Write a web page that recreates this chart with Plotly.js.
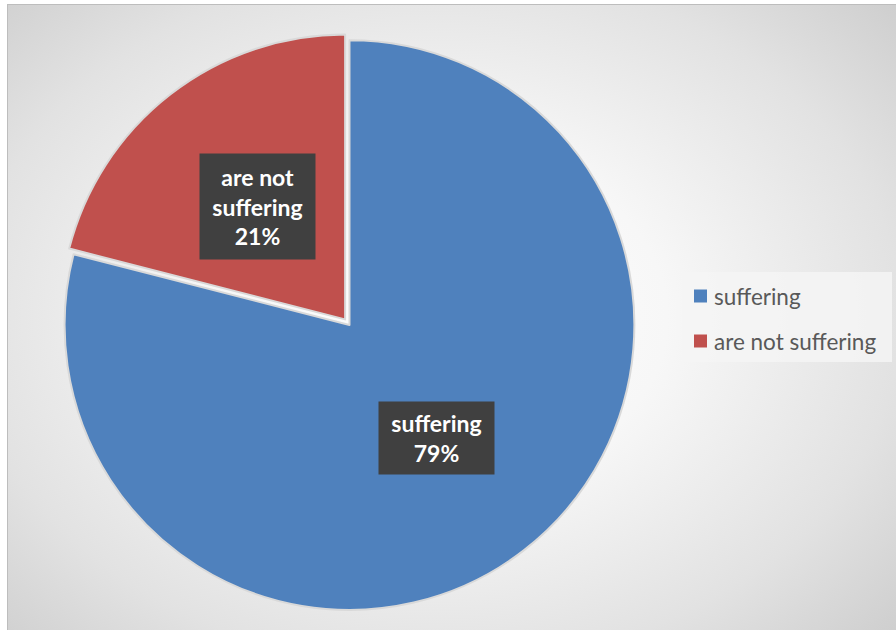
<!DOCTYPE html>
<html><head><meta charset="utf-8">
<script src="https://cdn.plot.ly/plotly-3.0.1.min.js"></script>
<style>
html,body{margin:0;padding:0;background:#fff;}
#wrap{position:relative;width:896px;height:630px;overflow:hidden;}
#bg{position:absolute;left:7px;top:4px;width:889px;height:626px;box-sizing:border-box;border-left:1px solid #bdbdbd;border-top:1px solid #bdbdbd;
background:radial-gradient(ellipse 75% 80% at 48% 50%, #ffffff 0%, #f7f7f7 35%, #e2e2e2 70%, #c9c9c9 100%);}
#chart{position:absolute;left:0;top:0;width:896px;height:630px;}
</style></head>
<body><div id="wrap"><div id="bg"></div><div id="chart"></div></div>
<script>
const labels = ["suffering", "are not suffering"];
const values = [79, 21];
const colors = ["#4F81BD", "#C0504D"];
const pulls = [0, 0.025];

const W = 896, H = 630;
const dom = {x:[0.0641, 0.716], y:[0.0206, 0.9476]};
const maxPull = Math.max(...pulls);
const cxp = (dom.x[0]+dom.x[1])/2*W, cyp = (1-(dom.y[0]+dom.y[1])/2)*H;
const R = Math.min((dom.x[1]-dom.x[0])*W, (dom.y[1]-dom.y[0])*H)/(2*(1+maxPull));
const total = values.reduce((a,b)=>a+b,0);

function wrap(s){const w=s.split(" ");const out=[];let cur="";w.forEach(t=>{if(cur&&(cur+" "+t).length>9){out.push(cur);cur=t;}else cur=cur?cur+" "+t:t;});out.push(cur);return out.join("<br>");}

const annotations = [];
const shapes = [];
let cum = 0;
values.forEach((v,i)=>{
  const a = (cum + v/2)/total*2*Math.PI; cum += v;
  const rr = 0.5*R + pulls[i]*R;
  const x = cxp + rr*Math.sin(a), y = cyp - rr*Math.cos(a);
  const pct = Math.round(v/total*100)+"%";
  const txt = wrap(labels[i]) + "<br>" + pct;
  const nl = txt.split("<br>").length;
  annotations.push({x:x/W, y:1-y/H, xref:"paper", yref:"paper", xanchor:"center", yanchor:"middle", showarrow:false, text:txt,
    font:{family:"Lato, 'Open Sans', sans-serif", size:23, color:"#ffffff", weight:"bold"},
    bgcolor:"#404040", borderpad:3, width:109, height: nl*33, align:"center", valign:"middle"});
});

// custom legend
const lg = {x0:682, x1:892, y0:272, y1:362};
shapes.push({type:"rect", xref:"paper", yref:"paper", x0:lg.x0/W, x1:lg.x1/W, y0:1-lg.y1/H, y1:1-lg.y0/H,
  fillcolor:"rgba(245,245,245,0.85)", line:{width:0}, layer:"below"});
labels.forEach((l,i)=>{
  const yc = 296 + i*45;
  shapes.push({type:"rect", xref:"paper", yref:"paper", x0:694/W, x1:707/W, y0:1-(yc+6.5)/H, y1:1-(yc-6.5)/H,
    fillcolor:colors[i], line:{width:0}});
  annotations.push({x:712/W, y:1-yc/H, xref:"paper", yref:"paper", xanchor:"left", yanchor:"middle", showarrow:false,
    text:l, font:{family:"Lato, 'Open Sans', sans-serif", size:22.5, color:"#595959"}});
});

Plotly.newPlot("chart", [{
  type:"pie", labels:labels, values:values, sort:false, direction:"clockwise", rotation:0,
  pull:pulls, textinfo:"none", hoverinfo:"label+percent",
  marker:{colors:colors, line:{color:"#d9d9d9", width:2}},
  domain:dom
}], {
  width:W, height:H, margin:{l:0,r:0,t:0,b:0},
  paper_bgcolor:"rgba(0,0,0,0)", plot_bgcolor:"rgba(0,0,0,0)",
  showlegend:false, annotations:annotations, shapes:shapes
}, {displayModeBar:false, staticPlot:true});
</script></body></html>
